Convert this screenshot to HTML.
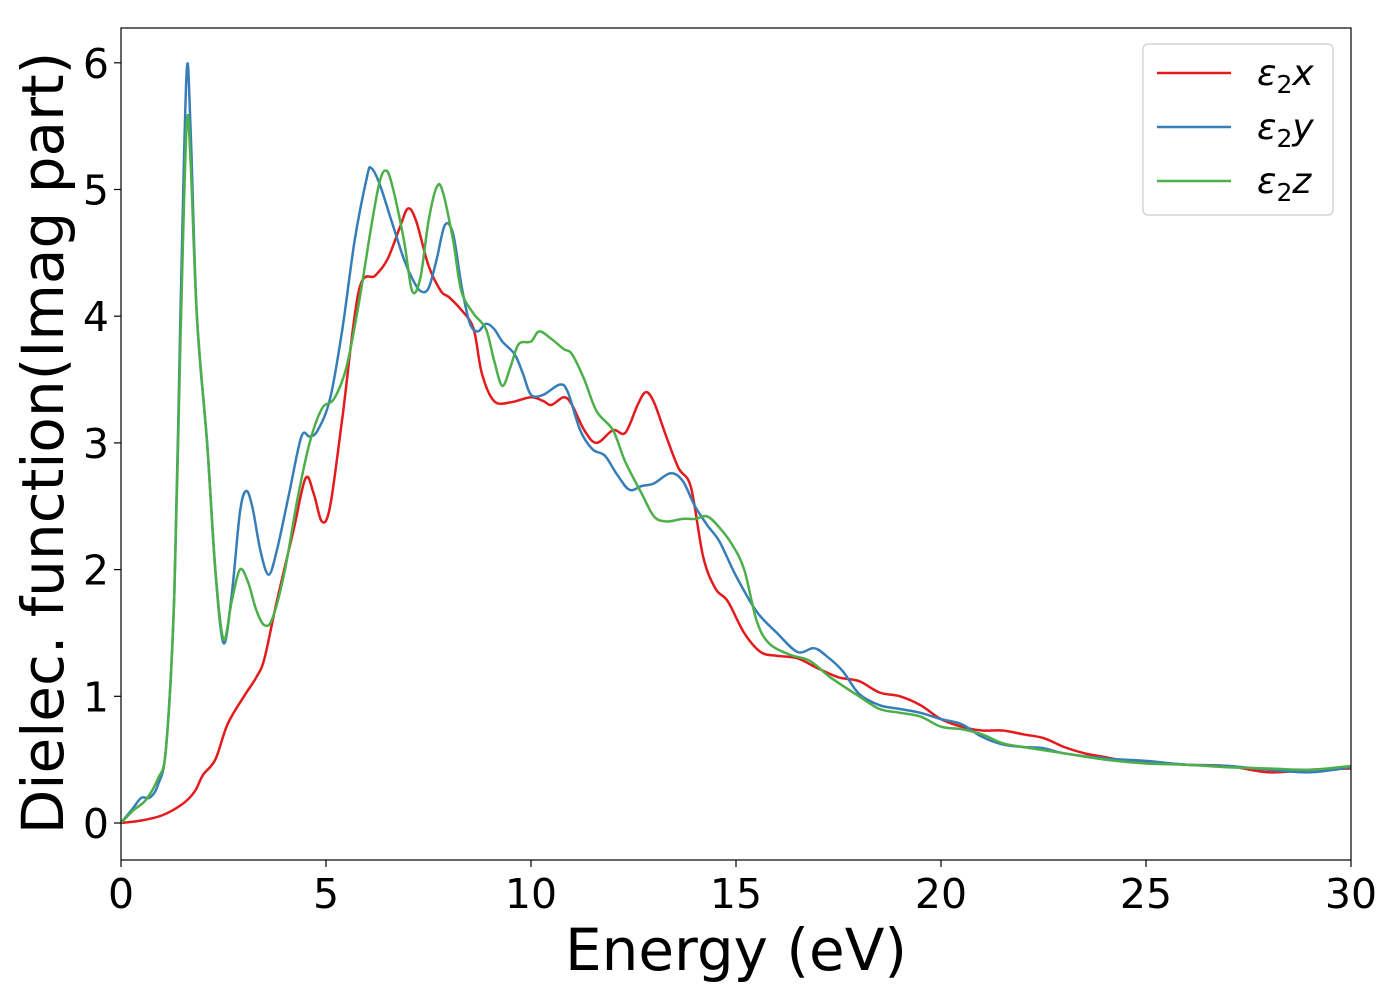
<!DOCTYPE html>
<html><head><meta charset="utf-8"><style>
html,body{margin:0;padding:0;background:#fff;}
svg{display:block;font-family:"DejaVu Sans","Liberation Sans",sans-serif;}
</style></head><body>
<svg id="chart" width="1400" height="1000">
<g id="plot"></g>
</svg>
<script>
const xTicks=[0,5,10,15,20,25,30];
const yTicks=[0,1,2,3,4,5,6];
const seriesNames=["ε2x","ε2y","ε2z"];
const xEnergy=[0,0.5,1,1.5,1.8,2,2.3,2.6,3,3.3,3.5,3.8,4.2,4.5,4.7,4.9,5.1,5.4,5.8,6.2,6.5,6.8,7.0,7.2,7.5,7.8,8.0,8.3,8.6,8.8,9.1,9.5,10,10.3,10.5,10.8,11,11.3,11.6,12,12.3,12.6,12.8,13,13.3,13.6,13.9,14.2,14.5,14.8,15.2,15.6,16,16.5,17,17.5,18,18.5,19,19.5,20,20.5,21,21.5,22,22.5,23,23.5,24,24.5,25,26,27,28,29,30];
const xVals=[0,0.02,0.06,0.15,0.25,0.38,0.5,0.78,1.0,1.15,1.3,1.75,2.3,2.72,2.6,2.38,2.5,3.2,4.2,4.32,4.45,4.7,4.85,4.75,4.4,4.2,4.15,4.05,3.9,3.55,3.33,3.32,3.36,3.33,3.3,3.36,3.3,3.1,3.0,3.1,3.08,3.3,3.4,3.32,3.05,2.8,2.65,2.1,1.85,1.75,1.5,1.35,1.32,1.3,1.22,1.15,1.12,1.03,1.0,0.93,0.82,0.76,0.73,0.73,0.7,0.67,0.6,0.55,0.52,0.49,0.48,0.46,0.45,0.4,0.42,0.43];
const yEnergy=[0,0.3,0.5,0.7,0.9,1.1,1.3,1.45,1.6,1.7,1.85,2.1,2.3,2.5,2.7,2.9,3.05,3.2,3.4,3.6,3.8,4.1,4.4,4.6,4.8,5.1,5.4,5.7,6.0,6.1,6.3,6.6,6.9,7.1,7.3,7.5,7.7,7.9,8.1,8.3,8.5,8.7,8.9,9.1,9.3,9.6,9.8,10,10.3,10.7,10.9,11.2,11.5,11.8,12.1,12.4,12.7,13,13.4,13.7,14,14.3,14.6,15,15.5,16,16.5,16.9,17.2,17.6,18,18.5,19,19.5,20,20.5,21,21.5,22,22.5,23,24,25,26,27,28,29,30];
const yVals=[0,0.12,0.2,0.2,0.3,0.6,1.8,4.0,5.92,5.45,4.0,3.0,2.0,1.42,1.8,2.45,2.62,2.5,2.15,1.96,2.15,2.6,3.05,3.05,3.1,3.35,3.9,4.6,5.1,5.17,5.05,4.75,4.45,4.3,4.2,4.22,4.45,4.72,4.65,4.25,3.95,3.88,3.94,3.9,3.8,3.7,3.55,3.38,3.38,3.46,3.4,3.1,2.95,2.9,2.75,2.63,2.66,2.68,2.76,2.7,2.5,2.35,2.22,1.95,1.67,1.5,1.35,1.38,1.32,1.2,1.02,0.93,0.9,0.87,0.82,0.78,0.68,0.62,0.6,0.59,0.55,0.51,0.49,0.46,0.45,0.42,0.4,0.44];
const zEnergy=[0,0.3,0.6,0.9,1.1,1.3,1.45,1.6,1.7,1.85,2.1,2.3,2.5,2.7,2.9,3.1,3.3,3.5,3.7,4.0,4.3,4.6,4.9,5.2,5.5,5.8,6.1,6.3,6.45,6.6,6.9,7.1,7.3,7.5,7.7,7.85,8.1,8.3,8.6,8.9,9.1,9.3,9.5,9.7,10,10.2,10.5,10.8,11,11.3,11.6,12,12.3,12.7,13,13.3,13.7,14,14.3,14.6,14.9,15.2,15.5,15.8,16.3,16.8,17.3,18,18.5,19,19.5,20,20.5,21,21.5,22,23,24,25,26,27,28,29,30];
const zVals=[0,0.1,0.18,0.35,0.6,1.8,3.8,5.5,5.2,4.0,3.0,2.0,1.45,1.75,2.0,1.9,1.68,1.56,1.62,2.0,2.55,3.0,3.27,3.35,3.6,4.1,4.7,5.05,5.15,5.05,4.6,4.2,4.3,4.75,5.02,4.98,4.6,4.2,4.02,3.9,3.65,3.45,3.6,3.78,3.8,3.88,3.82,3.74,3.7,3.5,3.25,3.1,2.85,2.6,2.42,2.38,2.4,2.4,2.42,2.33,2.2,2.0,1.6,1.42,1.33,1.28,1.15,1.0,0.9,0.87,0.84,0.76,0.74,0.7,0.63,0.6,0.55,0.5,0.47,0.46,0.44,0.43,0.42,0.45];
const colors=["#e41a1c","#377eb8","#4daf4a"];
const L=121,R=1351,T=28,B=860;
const X=v=>L+(v-0)/30*(R-L);
const Y=v=>823-v*126.7;
const NS="http://www.w3.org/2000/svg";
const g=document.getElementById('plot');
function mk(t,a,p){const e=document.createElementNS(NS,t);for(const k in a)e.setAttribute(k,a[k]);(p||g).appendChild(e);return e;}
function smooth(xs,ys){const p=xs.map((x,i)=>[X(x),Y(ys[i])]);let d="M"+p[0][0]+","+p[0][1];
for(let i=0;i<p.length-1;i++){const p0=p[Math.max(0,i-1)],p1=p[i],p2=p[i+1],p3=p[Math.min(p.length-1,i+2)];
const c1=[p1[0]+(p2[0]-p0[0])/6,p1[1]+(p2[1]-p0[1])/6],c2=[p2[0]-(p3[0]-p1[0])/6,p2[1]-(p3[1]-p1[1])/6];
d+=" C"+c1[0].toFixed(1)+","+c1[1].toFixed(1)+" "+c2[0].toFixed(1)+","+c2[1].toFixed(1)+" "+p2[0].toFixed(1)+","+p2[1].toFixed(1);}return d;}
const data=[[xEnergy,xVals],[yEnergy,yVals],[zEnergy,zVals]];
const clip=mk('clipPath',{id:'cp'});mk('rect',{x:L,y:T,width:R-L,height:B-T},clip);
data.forEach((s,i)=>{const p=mk('path',{d:smooth(s[0],s[1]),fill:'none',stroke:colors[i],'stroke-width':2.5,'clip-path':'url(#cp)'});

});
const frame=mk('rect',{x:L,y:T,width:R-L,height:B-T,fill:'none',stroke:'#000','stroke-width':1.2});


xTicks.forEach(t=>{mk('line',{x1:X(t),x2:X(t),y1:B,y2:B+7,stroke:'#000','stroke-width':1.2});
const tx=mk('text',{x:X(t),y:B+48,'font-size':41,'text-anchor':'middle'});tx.textContent=t;

});
yTicks.forEach(t=>{mk('line',{x1:L-7,x2:L,y1:Y(t),y2:Y(t),stroke:'#000','stroke-width':1.2});
const tx=mk('text',{x:L-12,y:Y(t)+15,'font-size':41,'text-anchor':'end'});tx.textContent=t;

});
const xl=mk('text',{x:(L+R)/2,y:970,'font-size':58,'text-anchor':'middle'});xl.textContent="Energy (eV)";


const yl=mk('text',{x:0,y:0,'font-size':58,'text-anchor':'middle',transform:'translate(63,443) rotate(-90)'});yl.textContent="Dielec. function(Imag part)";


const lg=mk('g',{});


mk('rect',{x:1143,y:44,width:190,height:171,rx:5,fill:'#fff',stroke:'#ccc','stroke-width':1.2},lg);
const subs=['x','y','z'];
subs.forEach((s,i)=>{const yy=73+i*54;
mk('line',{x1:1157,x2:1231,y1:yy,y2:yy,stroke:colors[i],'stroke-width':2.5},lg);
const t=mk('text',{x:1257,y:yy+12,'font-size':36,'font-style':'italic'},lg);


t.innerHTML='ε<tspan font-style="normal" font-size="25" dy="8">2</tspan><tspan dy="-8">'+s+'</tspan>';});
</script>
</body></html>
